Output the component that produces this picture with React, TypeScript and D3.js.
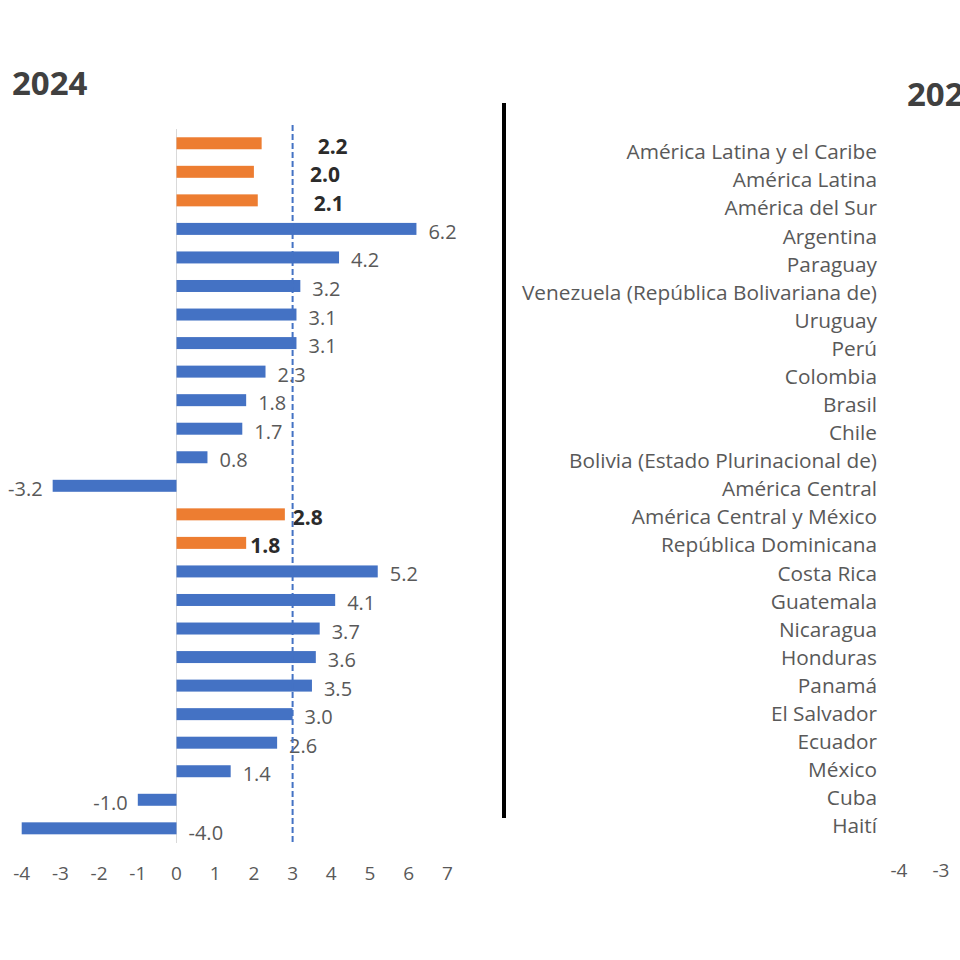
import React from "react";
import * as d3 from "d3";

const categories = [
  "América Latina y el Caribe",
  "América Latina",
  "América del Sur",
  "Argentina",
  "Paraguay",
  "Venezuela (República Bolivariana de)",
  "Uruguay",
  "Perú",
  "Colombia",
  "Brasil",
  "Chile",
  "Bolivia (Estado Plurinacional de)",
  "América Central",
  "América Central y México",
  "República Dominicana",
  "Costa Rica",
  "Guatemala",
  "Nicaragua",
  "Honduras",
  "Panamá",
  "El Salvador",
  "Ecuador",
  "México",
  "Cuba",
  "Haití",
];

// left panel (2024) rows, top to bottom
const values2024 = [2.2, 2.0, 2.1, 6.2, 4.2, 3.2, 3.1, 3.1, 2.3, 1.8, 1.7, 0.8, -3.2, 2.8, 1.8, 5.2, 4.1, 3.7, 3.6, 3.5, 3.0, 2.6, 1.4, -1.0, -4.0];
const isAggregate2024 = [true, true, true, false, false, false, false, false, false, false, false, false, false, true, true, false, false, false, false, false, false, false, false, false, false];
const tickValues = [-4, -3, -2, -1, 0, 1, 2, 3, 4, 5, 6, 7];
const referenceValue = 3;
const titleLeft = "2024";
const titleRight = "2025";

const BLUE = "#4472C4";
const ORANGE = "#ED7D31";
const FONT = "'Open Sans', Lato, sans-serif";

export default function App() {
  const rows = d3.range(values2024.length);
  const x = d3.scaleLinear().domain([-4, 7]).range([21.7, 447.4]);
  const y = d3.scaleBand<number>().domain(rows).range([129, 842.6]).paddingInner(0.58).paddingOuter(0.29);
  const yLabel = d3.scalePoint<string>().domain(categories).range([152, 826]);
  const xRight = d3.scaleLinear().domain([-4, 7]).range([899, 899 + 11 * 42]);
  const bh = y.bandwidth();

  // bold labels of the first three aggregates sit right of the reference line
  const labelShift = (i: number) => (i < 3 ? 48 : i === 14 ? -4 : 0);

  return (
    <svg width={960} height={960} style={{ position: "absolute", left: 0, top: 0, background: "#fff" }} fontFamily={FONT}>
      <rect width={960} height={960} fill="#fff" />
      <text x={12} y={95} fontSize={33} fontWeight={700} fill="#404040">{titleLeft}</text>
      <text x={907} y={106} fontSize={33} fontWeight={700} fill="#404040">{titleRight}</text>

      {/* zero axis */}
      <line x1={x(0)} x2={x(0)} y1={129} y2={843} stroke="#d9d9d9" strokeWidth={1} />

      {rows.map((i) => {
        const v = values2024[i];
        const agg = isAggregate2024[i];
        const yc = (y(i) as number) + bh / 2;
        const x0 = x(Math.min(0, v));
        const w = Math.abs(x(v) - x(0));
        let lx: number, anchor: string, ly = yc + 3;
        if (v >= 0) {
          lx = x(v) + (agg ? 8 : 12) + labelShift(i);
          anchor = "start";
        } else if (x(v) - 20 > 10) {
          lx = x(v) - 10;
          anchor = "end";
        } else {
          lx = x(0) + 12;
          anchor = "start";
          ly = yc + 5;
        }
        return (
          <g key={i}>
            <rect x={x0} y={yc - bh / 2} width={w} height={bh} fill={agg ? ORANGE : BLUE} />
            <text
              x={lx}
              y={ly}
              dy="0.35em"
              textAnchor={anchor}
              fontSize={agg ? 21 : 20}
              fontWeight={agg ? 700 : 400}
              fill={agg ? "#2b2b2b" : "#595959"}
            >
              {v.toFixed(1)}
            </text>
          </g>
        );
      })}

      {/* reference dashed line */}
      <line x1={x(referenceValue)} x2={x(referenceValue)} y1={125} y2={843} stroke={BLUE} strokeWidth={2} strokeDasharray="6,3" />

      {tickValues.map((t) => (
        <text key={t} x={x(t)} y={873} dy="0.35em" textAnchor="middle" fontSize={19} fill="#595959">{t}</text>
      ))}

      {/* divider */}
      <line x1={504} x2={504} y1={103} y2={818} stroke="#000" strokeWidth={4} />

      {categories.map((c) => (
        <text key={c} x={877} y={yLabel(c) as number} dy="0.35em" textAnchor="end" fontSize={20.8} fill="#595959">{c}</text>
      ))}

      {tickValues.filter((t) => xRight(t) < 950).map((t) => (
        <text key={"r" + t} x={xRight(t)} y={870} dy="0.35em" textAnchor="middle" fontSize={19} fill="#595959">{t}</text>
      ))}
    </svg>
  );
}
